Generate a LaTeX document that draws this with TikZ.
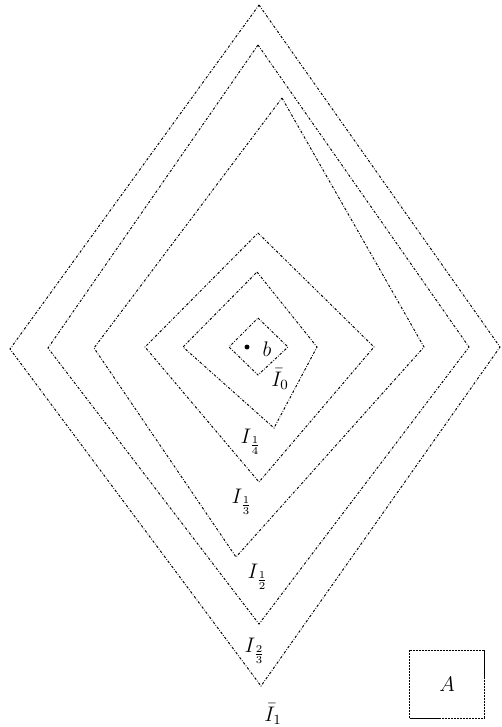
\documentclass[tikz,border=0pt]{standalone}
\begin{document}
\begin{tikzpicture}[x=0.02cm, y=-0.02cm, font=\large,
    level/.style={line width=0.55pt, dash pattern=on 1.4pt off 0.9pt on 0.4pt off 0.9pt},
    setbox/.style={draw, line width=0.55pt, dash pattern=on 1.2pt off 0.5pt,
        minimum width=1.5cm, minimum height=1.36cm}]
    \useasboundingbox (0,0) rectangle (502,727);

    % level sets, outer to inner
    \draw[level] (259,5) -- (500,347) -- (261,686) -- (10,349) -- cycle;
    \draw[level] (258,45) -- (469,347) -- (259,624) -- (48,348) -- cycle;
    \draw[level] (282,98) -- (424,347) -- (236,557) -- (94,348) -- cycle;
    \draw[level] (258,233) -- (374,347) -- (259,482) -- (145,347) -- cycle;
    \draw[level] (257,272) -- (317,347) -- (274,428) -- (183,347) -- cycle;
    \draw[level] (258,318) -- (288,347) -- (258,375) -- (229,347) -- cycle;

    % centre point
    \fill (247,347) circle (1.4pt);
    \node (b) at (267,349) {$b$};

    % labels
    \node (I0) at (280,379) {$\bar{I}_0$};
    \node (I14) at (251,442) {$I_{\frac{1}{4}}$};
    \node (I13) at (242,502) {$I_{\frac{1}{3}}$};
    \node (I12) at (258,577) {$I_{\frac{1}{2}}$};
    \node (I23) at (255,651) {$I_{\frac{2}{3}}$};
    \node (I1) at (273,714) {$\bar{I}_1$};

    % the set A
    \node[setbox] (A) at (447,684) {$A$};
\end{tikzpicture}
\end{document}
